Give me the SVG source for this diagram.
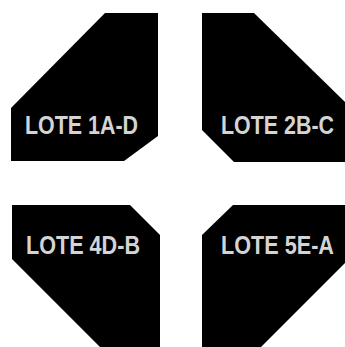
<svg xmlns="http://www.w3.org/2000/svg" width="345" height="347" viewBox="0 0 345 347">
<style>
.lot{fill:#000}
.lbl{fill:#d4d4d4;font-family:"Liberation Sans",Arial,sans-serif;font-weight:bold;font-size:25px}
</style>
<rect width="345" height="347" fill="#fff"/>
<g id="lote-1a-d">
<path class="lot" d="M105,13 L158,13 L158,136 L124,161 L11,161 L11,108 Z"/>
<text class="lbl" x="25" y="134" textLength="113" lengthAdjust="spacingAndGlyphs">LOTE 1A-D</text>
</g>
<g id="lote-2b-c">
<path class="lot" d="M202,13 L254,13 L345,102 L345,162 L234,162 L202,130 Z"/>
<text class="lbl" x="221" y="134" textLength="113" lengthAdjust="spacingAndGlyphs">LOTE 2B-C</text>
</g>
<g id="lote-4d-b">
<path class="lot" d="M12,205 L130,205 L160,235 L160,347 L100,347 L12,259 Z"/>
<text class="lbl" x="26" y="254" textLength="114" lengthAdjust="spacingAndGlyphs">LOTE 4D-B</text>
</g>
<g id="lote-5e-a">
<path class="lot" d="M233,205 L345,205 L345,263 L261,347 L202,347 L202,235 Z"/>
<text class="lbl" x="221" y="254" textLength="113" lengthAdjust="spacingAndGlyphs">LOTE 5E-A</text>
</g>
<g id="connectors"/>
</svg>
